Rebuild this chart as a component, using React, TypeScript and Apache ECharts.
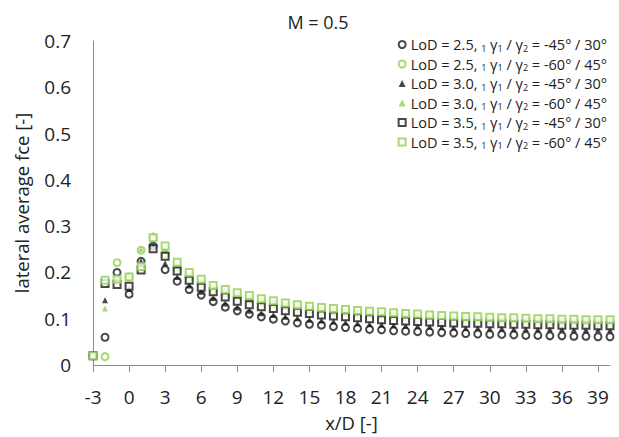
import React, { useEffect, useRef } from "react";
import * as echarts from "echarts";

const xValues = [-3, -2, -1, 0, 1, 2, 3, 4, 5, 6, 7, 8, 9, 10, 11, 12, 13, 14, 15, 16, 17, 18, 19, 20, 21, 22, 23, 24, 25, 26, 27, 28, 29, 30, 31, 32, 33, 34, 35, 36, 37, 38, 39, 40];

const lod25a = [0.02, 0.06, 0.20, 0.153, 0.224, 0.257, 0.206, 0.181, 0.163, 0.151, 0.137, 0.125, 0.117, 0.110, 0.104, 0.099, 0.095, 0.091, 0.088, 0.086, 0.083, 0.081, 0.079, 0.077, 0.076, 0.074, 0.073, 0.072, 0.071, 0.070, 0.069, 0.068, 0.067, 0.066, 0.066, 0.065, 0.064, 0.064, 0.063, 0.063, 0.062, 0.062, 0.061, 0.061];
const lod25b = [0.02, 0.018, 0.221, 0.19, 0.248, 0.275, 0.24, 0.21, 0.19, 0.176, 0.164, 0.155, 0.148, 0.142, 0.136, 0.132, 0.127, 0.123, 0.120, 0.117, 0.115, 0.113, 0.111, 0.109, 0.108, 0.106, 0.104, 0.103, 0.101, 0.100, 0.099, 0.098, 0.097, 0.096, 0.095, 0.095, 0.094, 0.093, 0.093, 0.092, 0.092, 0.091, 0.091, 0.091];
const lod30a = [0.02, 0.14, 0.19, 0.165, 0.224, 0.258, 0.22, 0.19, 0.172, 0.158, 0.145, 0.133, 0.124, 0.117, 0.112, 0.108, 0.104, 0.101, 0.098, 0.096, 0.094, 0.092, 0.090, 0.088, 0.087, 0.086, 0.085, 0.084, 0.083, 0.082, 0.081, 0.080, 0.080, 0.079, 0.079, 0.078, 0.078, 0.077, 0.077, 0.077, 0.076, 0.076, 0.076, 0.075];
const lod30b = [0.02, 0.122, 0.19, 0.19, 0.25, 0.282, 0.245, 0.212, 0.193, 0.179, 0.167, 0.158, 0.151, 0.145, 0.139, 0.135, 0.130, 0.126, 0.123, 0.120, 0.118, 0.116, 0.114, 0.112, 0.111, 0.109, 0.107, 0.106, 0.104, 0.103, 0.102, 0.101, 0.100, 0.099, 0.098, 0.098, 0.097, 0.096, 0.096, 0.095, 0.095, 0.094, 0.094, 0.094];
const lod35a = [0.02, 0.176, 0.174, 0.17, 0.205, 0.251, 0.235, 0.203, 0.183, 0.168, 0.158, 0.147, 0.138, 0.130, 0.126, 0.122, 0.117, 0.114, 0.111, 0.108, 0.106, 0.104, 0.102, 0.100, 0.098, 0.096, 0.095, 0.094, 0.093, 0.092, 0.091, 0.090, 0.090, 0.089, 0.089, 0.088, 0.088, 0.087, 0.087, 0.086, 0.086, 0.086, 0.085, 0.085];
const lod35b = [0.02, 0.183, 0.185, 0.19, 0.213, 0.275, 0.257, 0.222, 0.200, 0.185, 0.172, 0.163, 0.156, 0.150, 0.143, 0.139, 0.134, 0.130, 0.127, 0.124, 0.122, 0.120, 0.118, 0.116, 0.115, 0.113, 0.111, 0.110, 0.108, 0.107, 0.106, 0.105, 0.104, 0.103, 0.102, 0.102, 0.101, 0.100, 0.100, 0.099, 0.099, 0.098, 0.098, 0.098];

const lodLabels = ["2.5", "2.5", "3.0", "3.0", "3.5", "3.5"];
const angle1 = ["-45", "-60", "-45", "-60", "-45", "-60"];
const angle2 = ["30", "45", "30", "45", "30", "45"];
const seriesValues = [lod25a, lod25b, lod30a, lod30b, lod35a, lod35b];
const seriesSymbols = ["emptyCircle", "emptyCircle", "triangle", "triangle", "emptyRect", "emptyRect"];
const seriesColors = ["#1a1a1a", "#92d050", "#1a1a1a", "#92d050", "#1a1a1a", "#92d050"];
const yTicks = [0, 0.1, 0.2, 0.3, 0.4, 0.5, 0.6, 0.7];

const FONT = "Open Sans";

export default function App() {
  const ref = useRef<HTMLDivElement>(null);
  useEffect(() => {
    if (!ref.current) return;
    const chart = echarts.init(ref.current, null, { renderer: "svg" });
    const names = seriesValues.map((_, i) => `LoD = ${lodLabels[i]}, 1 γ1 / γ2 = ${angle1[i]}° / ${angle2[i]}°`);
    const series = seriesValues.map((vals, i) => ({
      name: names[i],
      type: "scatter",
      symbol: seriesSymbols[i],
      symbolSize: seriesSymbols[i] === "triangle" ? 6 : 7,
      itemStyle: {
        color: seriesColors[i],
        borderColor: seriesColors[i],
        borderWidth: seriesSymbols[i] === "triangle" ? 0 : 1.6,
      },
      data: vals.map((v, j) => [xValues[j], v]),
    }));
    chart.setOption({
      animation: false,
      backgroundColor: "#ffffff",
      textStyle: { fontFamily: FONT },
      title: {
        text: "M = 0.5",
        left: 313,
        textAlign: "center",
        top: 8,
        textStyle: { fontFamily: FONT, fontSize: 18, fontWeight: "normal", color: "#222" },
      },
      legend: {
        orient: "vertical",
        right: 7,
        top: 32,
        itemWidth: 7,
        itemHeight: 7,
        itemGap: 4,
        data: names,
        formatter: (name: string) => {
          const i = names.indexOf(name);
          return `LoD = ${lodLabels[i]}, {s|1} γ{s|1} / γ{s|2} = ${angle1[i]}° / ${angle2[i]}°`;
        },
        textStyle: {
          fontFamily: FONT,
          fontSize: 14.5,
          color: "#222",
          rich: {
            s: { fontFamily: FONT, fontSize: 9, color: "#222", padding: [7, 0, 0, 0] },
          },
        },
      },
      grid: { left: 93, right: 9, top: 41, bottom: 71 },
      xAxis: {
        type: "value",
        min: -3,
        max: 40,
        interval: 3,
        name: "x/D [-]",
        nameLocation: "middle",
        nameGap: 48,
        nameTextStyle: { fontFamily: FONT, fontSize: 18.5, color: "#222" },
        axisLine: { show: true, onZero: false, lineStyle: { color: "#8c8c8c", width: 1 } },
        axisTick: { show: true, inside: false, length: 7, lineStyle: { color: "#8c8c8c" } },
        axisLabel: { fontFamily: FONT, fontSize: 19, color: "#222", margin: 22, showMaxLabel: false },
        splitLine: { show: false },
      },
      yAxis: {
        type: "value",
        min: yTicks[0],
        max: yTicks[yTicks.length - 1],
        interval: 0.1,
        name: "lateral average fce [-]",
        nameLocation: "middle",
        nameGap: 62,
        nameTextStyle: { fontFamily: FONT, fontSize: 18.5, color: "#222" },
        axisLine: { show: true, onZero: false, lineStyle: { color: "#8c8c8c", width: 1 } },
        axisTick: { show: false },
        axisLabel: { fontFamily: FONT, fontSize: 19, color: "#222", margin: 22 },
        splitLine: { show: false },
      },
      series,
    });
    return () => chart.dispose();
  }, []);
  return <div ref={ref} style={{ position: "fixed", left: 0, top: 0, width: 619, height: 437 }} />;
}
